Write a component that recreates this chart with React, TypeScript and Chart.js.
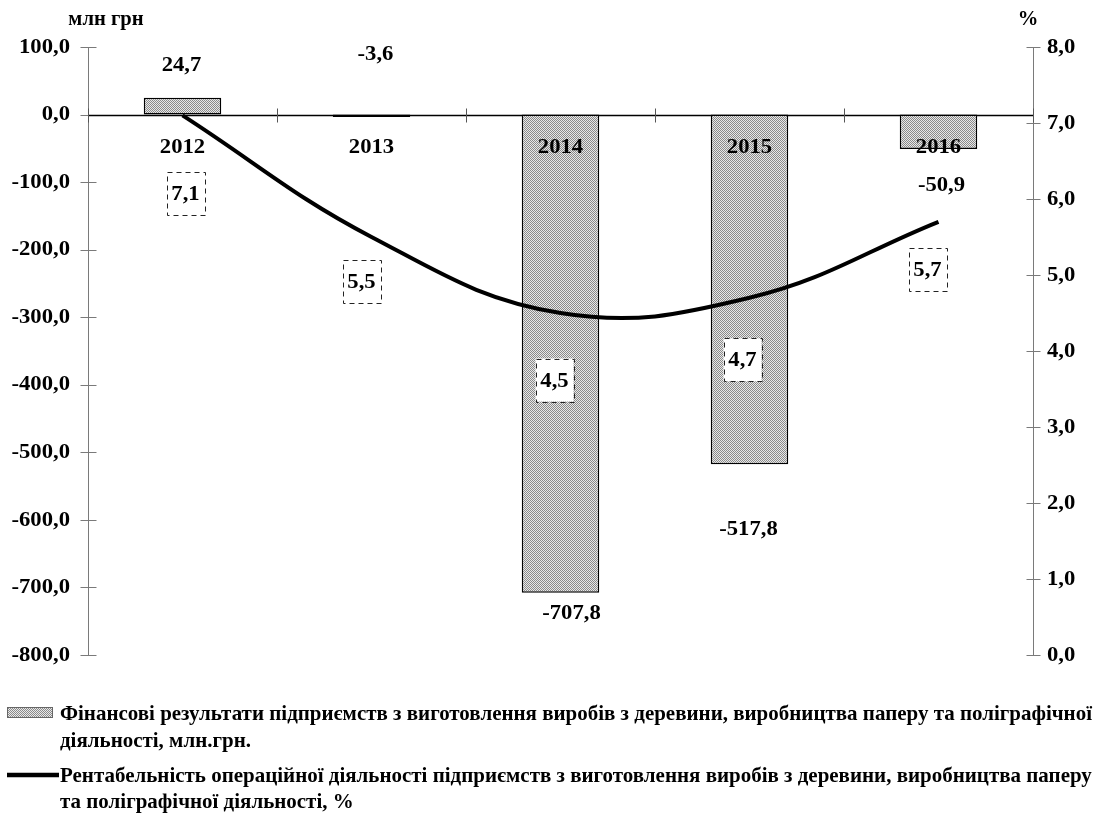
import React, { useEffect, useRef } from "react";
import { Chart, registerables } from "chart.js";

Chart.register(...registerables);

// ---------- data ----------
const categories = ["2012", "2013", "2014", "2015", "2016"];
const financialResults = [24.7, -3.6, -707.8, -517.8, -50.9];
const profitability = [7.1, 5.5, 4.5, 4.7, 5.7];
const leftAxisRange = { min: -800, max: 100, step: 100 };
const rightAxisRange = { min: 0, max: 8, step: 1 };
const leftUnit = "млн грн";
const rightUnit = "%";
const legendBarText = [
  "Фінансові результати підприємств з виготовлення виробів з деревини, виробництва паперу та поліграфічної",
  "діяльності, млн.грн.",
];
const legendLineText = [
  "Рентабельність операційної діяльності підприємств з виготовлення виробів з деревини, виробництва паперу",
  "та поліграфічної діяльності, %",
];

// ---------- label placement (layout only) ----------
const barLabelDx = [-1, 4, 11, -1, 3];
const barLabelDy = [-33, -63, 21, 65, 36];
const lineLabelDx = [3, -10, -6, -7, -11];
const lineLabelDy = [78, 44, 67, 62, 48];

const FONT = '"Liberation Serif", "Times New Roman", serif';
const SX = 1.03;

const fmt = (v: number) => v.toFixed(1).replace(".", ",");

function makePattern(): CanvasPattern | string {
  const c = document.createElement("canvas");
  c.width = 2;
  c.height = 2;
  const g = c.getContext("2d");
  if (!g) return "#bdbdbd";
  g.fillStyle = "#e8e8e8";
  g.fillRect(0, 0, 2, 2);
  g.fillStyle = "#8a8a8a";
  g.fillRect(0, 0, 1, 1);
  g.fillRect(1, 1, 1, 1);
  const p = g.createPattern(c, "repeat");
  return p || "#bdbdbd";
}

function txt(
  ctx: CanvasRenderingContext2D,
  s: string,
  x: number,
  y: number,
  align: CanvasTextAlign,
  size = 22,
  sx = SX,
  baseline: CanvasTextBaseline = "middle"
) {
  ctx.save();
  ctx.translate(x, y);
  ctx.scale(sx, 1);
  ctx.font = `bold ${size}px ${FONT}`;
  ctx.textAlign = align;
  ctx.textBaseline = baseline;
  ctx.fillStyle = "#000";
  ctx.fillText(s, 0, 0);
  ctx.restore();
}

export default function App() {
  const ref = useRef<HTMLCanvasElement | null>(null);

  useEffect(() => {
    const canvas = ref.current;
    if (!canvas) return;
    const pattern = makePattern();

    const decor = {
      id: "decor",
      beforeDatasetsDraw(chart: any) {
        const ctx: CanvasRenderingContext2D = chart.ctx;
        const { left, right, top, bottom } = chart.chartArea;
        const y = chart.scales.y;
        const y1 = chart.scales.y1;
        const x = chart.scales.x;
        ctx.save();
        ctx.strokeStyle = "#7a7a7a";
        ctx.lineWidth = 1;
        const lx = Math.round(left) + 0.5;
        const rx = Math.round(right) + 0.5;
        ctx.beginPath();
        ctx.moveTo(lx, top);
        ctx.lineTo(lx, bottom);
        ctx.moveTo(rx, top);
        ctx.lineTo(rx, bottom);
        ctx.stroke();
        ctx.beginPath();
        y.ticks.forEach((t: any) => {
          const py = Math.round(y.getPixelForValue(t.value)) + 0.5;
          ctx.moveTo(lx - 8, py);
          ctx.lineTo(lx + 8, py);
        });
        y1.ticks.forEach((t: any) => {
          const py = Math.round(y1.getPixelForValue(t.value)) + 0.5;
          ctx.moveTo(rx - 7, py);
          ctx.lineTo(rx + 7, py);
        });
        ctx.stroke();
        const zy = Math.round(y.getPixelForValue(0)) + 0.5;
        ctx.strokeStyle = "#000";
        ctx.lineWidth = 1.3;
        ctx.beginPath();
        ctx.moveTo(left, zy);
        ctx.lineTo(right, zy);
        ctx.stroke();
        ctx.strokeStyle = "#555";
        ctx.lineWidth = 1;
        ctx.beginPath();
        const n = categories.length;
        const cw = x.getPixelForValue(1) - x.getPixelForValue(0);
        for (let i = 0; i <= n; i++) {
          const bx =
            i < n ? x.getPixelForValue(i) - cw / 2 : x.getPixelForValue(n - 1) + cw / 2;
          const bxr = Math.round(bx) + 0.5;
          ctx.moveTo(bxr, zy - 7);
          ctx.lineTo(bxr, zy + 7);
        }
        ctx.stroke();
        ctx.restore();
      },
      afterDraw(chart: any) {
        const ctx: CanvasRenderingContext2D = chart.ctx;
        const { left, right } = chart.chartArea;
        const y = chart.scales.y;
        const y1 = chart.scales.y1;
        const x = chart.scales.x;
        y.ticks.forEach((t: any) => {
          txt(ctx, fmt(t.value), left - 18, y.getPixelForValue(t.value), "right");
        });
        y1.ticks.forEach((t: any) => {
          txt(ctx, fmt(t.value), right + 14, y1.getPixelForValue(t.value), "left");
        });
        txt(ctx, leftUnit, 106, 20, "center", 20);
        txt(ctx, rightUnit, 1028, 20, "center", 20);
        const zy = y.getPixelForValue(0);
        categories.forEach((c, i) => {
          txt(ctx, c, x.getPixelForValue(i), zy + 33, "center");
        });
        financialResults.forEach((v, i) => {
          const px = x.getPixelForValue(i) + barLabelDx[i];
          const py = y.getPixelForValue(v) + barLabelDy[i];
          txt(ctx, fmt(v), px, py, "center");
        });
        profitability.forEach((v, i) => {
          const cx = x.getPixelForValue(i) + lineLabelDx[i];
          const cy = y1.getPixelForValue(v) + lineLabelDy[i];
          const w = 38;
          const h = 43;
          ctx.save();
          ctx.fillStyle = "#fff";
          ctx.fillRect(cx - w / 2, cy - h / 2, w, h);
          ctx.setLineDash([5, 4]);
          ctx.strokeStyle = "#222";
          ctx.lineWidth = 1;
          ctx.strokeRect(Math.round(cx - w / 2) + 0.5, Math.round(cy - h / 2) + 0.5, w, h);
          ctx.restore();
          txt(ctx, fmt(v), cx, cy + 1, "center");
        });
        // legend
        ctx.save();
        ctx.font = `bold 22px ${FONT}`;
        const w1 = ctx.measureText(legendBarText[0]).width;
        ctx.restore();
        const lsx = (1092 - 60) / w1;
        ctx.save();
        ctx.fillStyle = pattern as any;
        ctx.fillRect(7, 707, 45, 10);
        ctx.strokeStyle = "#666";
        ctx.lineWidth = 1;
        ctx.strokeRect(7.5, 707.5, 45, 10);
        ctx.strokeStyle = "#000";
        ctx.lineWidth = 4.5;
        ctx.beginPath();
        ctx.moveTo(7, 775);
        ctx.lineTo(59, 775);
        ctx.stroke();
        ctx.restore();
        txt(ctx, legendBarText[0], 60, 720, "left", 22, lsx, "alphabetic");
        txt(ctx, legendBarText[1], 60, 747, "left", 22, lsx, "alphabetic");
        txt(ctx, legendLineText[0], 60, 782, "left", 22, lsx, "alphabetic");
        txt(ctx, legendLineText[1], 60, 808, "left", 22, lsx, "alphabetic");
      },
    };

    const chart = new Chart(canvas, {
      type: "bar",
      data: {
        labels: categories,
        datasets: [
          {
            type: "line",
            label: legendLineText.join(" "),
            data: profitability,
            yAxisID: "y1",
            borderColor: "#000",
            borderWidth: 4,
            pointRadius: 0,
            tension: 0.4,
            fill: false,
            order: 0,
          } as any,
          {
            type: "bar",
            label: legendBarText.join(" "),
            data: financialResults,
            yAxisID: "y",
            backgroundColor: pattern as any,
            borderColor: "#000",
            borderWidth: 1.5,
            borderSkipped: false,
            barPercentage: 0.41,
            categoryPercentage: 1,
            order: 1,
          } as any,
        ],
      },
      options: {
        animation: false,
        responsive: true,
        maintainAspectRatio: false,
        layout: { padding: { top: 47, bottom: 159, left: 0, right: 0 } },
        plugins: {
          legend: { display: false },
          tooltip: { enabled: false },
          title: { display: false },
        },
        scales: {
          x: {
            type: "category",
            display: false,
            offset: true,
          },
          y: {
            position: "left",
            min: leftAxisRange.min,
            max: leftAxisRange.max,
            ticks: { stepSize: leftAxisRange.step, display: false },
            grid: { display: false },
            border: { display: false },
            afterFit: (s: any) => {
              s.width = 88;
            },
          },
          y1: {
            position: "right",
            min: rightAxisRange.min,
            max: rightAxisRange.max,
            ticks: { stepSize: rightAxisRange.step, display: false },
            grid: { display: false },
            border: { display: false },
            afterFit: (s: any) => {
              s.width = 65;
            },
          },
        },
      },
      plugins: [decor],
    });
    return () => chart.destroy();
  }, []);

  return (
    <div
      style={{
        position: "absolute",
        left: 0,
        top: 0,
        width: 1098,
        height: 814,
        background: "#fff",
      }}
    >
      <canvas ref={ref} />
    </div>
  );
}
